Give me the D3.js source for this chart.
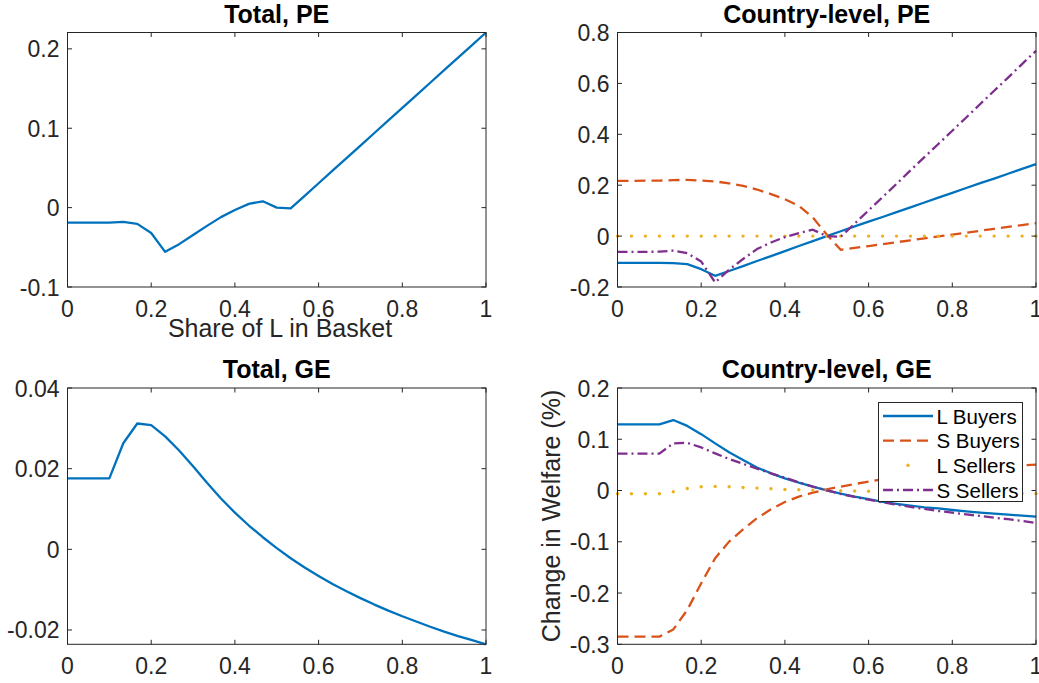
<!DOCTYPE html>
<html>
<head>
<meta charset="utf-8">
<script src="https://cdnjs.cloudflare.com/ajax/libs/d3/7.8.5/d3.min.js"></script>
<style>
  body { margin: 0; background: #fff; }
  text { font-family: "Liberation Sans", Arial, Helvetica, sans-serif; }
</style>
</head>
<body>
<div id="chart"></div>
<script>
// share of L in basket (x grid)
var shareL = [0, 0.0333, 0.0667, 0.1, 0.1333, 0.1667, 0.2, 0.2333, 0.2667, 0.3, 0.3333,
  0.3667, 0.4, 0.4333, 0.4667, 0.5, 0.5333, 0.5667, 0.6, 0.6333, 0.6667, 0.7, 0.7333,
  0.7667, 0.8, 0.8333, 0.8667, 0.9, 0.9333, 0.9667, 1];

var totalPE = [-0.019, -0.019, -0.019, -0.019, -0.018, -0.0205, -0.032, -0.0557, -0.046, -0.0344, -0.023,
  -0.012, -0.003, 0.0047, 0.008, 0.0, -0.001, 0.0148, 0.0307, 0.0465, 0.0623, 0.0782, 0.094,
  0.1098, 0.1257, 0.1415, 0.1573, 0.1732, 0.189, 0.2048, 0.2206];

var pe_LBuyers = [-0.105, -0.105, -0.105, -0.105, -0.106, -0.11, -0.13, -0.156, -0.137, -0.118, -0.098,
  -0.079, -0.059, -0.039, -0.02, 0.0, 0.019, 0.038, 0.057, 0.075, 0.094, 0.113, 0.132,
  0.151, 0.17, 0.189, 0.208, 0.226, 0.245, 0.264, 0.283];
var pe_SBuyers = [0.217, 0.217, 0.218, 0.218, 0.22, 0.221, 0.218, 0.215, 0.207, 0.197, 0.183,
  0.165, 0.145, 0.119, 0.073, 0.006, -0.054, -0.0465, -0.039, -0.0315, -0.024, -0.0165, -0.009,
  -0.0015, 0.006, 0.0135, 0.021, 0.0285, 0.036, 0.0435, 0.051];
var pe_LSellers = [0, 0, 0, 0, 0, 0, 0, 0, 0, 0, 0,
  0, 0, 0, 0, 0, 0, 0, 0, 0, 0, 0, 0,
  0, 0, 0, 0, 0, 0, 0, 0];
var pe_SSellers = [-0.062, -0.062, -0.062, -0.061, -0.057, -0.067, -0.1, -0.182, -0.132, -0.09, -0.051,
  -0.025, -0.004, 0.012, 0.025, 0.0, -0.003, 0.049, 0.101, 0.153, 0.205, 0.258, 0.31,
  0.362, 0.414, 0.466, 0.519, 0.571, 0.623, 0.676, 0.728];

var totalGE = [0.0176, 0.0176, 0.0176, 0.0176, 0.0263, 0.0312, 0.0308, 0.028, 0.0245, 0.0206, 0.0165,
  0.0126, 0.0091, 0.0059, 0.003, 0.0003, -0.0022, -0.0045, -0.0066, -0.0086, -0.0104, -0.0121, -0.0137,
  -0.0152, -0.0166, -0.0179, -0.0192, -0.0204, -0.0215, -0.0225, -0.02355];

var ge_LBuyers = [0.129, 0.129, 0.129, 0.129, 0.1375, 0.126, 0.11, 0.092, 0.0745, 0.0596, 0.045,
  0.0336, 0.0238, 0.0153, 0.0075, 0.0004, -0.006, -0.012, -0.017, -0.022, -0.026, -0.0295, -0.033,
  -0.035, -0.038, -0.0405, -0.043, -0.045, -0.047, -0.049, -0.051];
var ge_SBuyers = [-0.285, -0.285, -0.285, -0.285, -0.271, -0.233, -0.181, -0.132, -0.0997, -0.0757, -0.054,
  -0.0367, -0.0224, -0.012, -0.004, 0.0023, 0.0075, 0.0127, 0.0173, 0.022, 0.026, 0.0295, 0.033,
  0.036, 0.039, 0.0415, 0.044, 0.046, 0.048, 0.049, 0.0505];
var ge_LSellers = [-0.0064, -0.0064, -0.0064, -0.0064, -0.0025, 0.004, 0.0073, 0.008, 0.0075, 0.006, 0.0047,
  0.0034, 0.002, 0.0014, 0.0008, 0.0, -0.0005, -0.001, -0.0015, -0.002, -0.0025, -0.003, -0.0034,
  -0.0038, -0.0042, -0.0045, -0.0048, -0.0051, -0.0054, -0.0057, -0.006];
var ge_SSellers = [0.072, 0.072, 0.072, 0.072, 0.092, 0.093, 0.084, 0.0725, 0.0615, 0.052, 0.0427,
  0.0336, 0.025, 0.016, 0.0075, 0.0004, -0.0068, -0.0126, -0.018, -0.023, -0.0275, -0.032, -0.036,
  -0.04, -0.043, -0.0464, -0.0497, -0.053, -0.056, -0.0594, -0.0633];

var seriesNames = ["L Buyers", "S Buyers", "L Sellers", "S Sellers"];

var xTicks = [0, 0.2, 0.4, 0.6, 0.8, 1];
var yTicksTotalPE = [-0.1, 0, 0.1, 0.2];
var yTicksCountryPE = [-0.2, 0, 0.2, 0.4, 0.6, 0.8];
var yTicksTotalGE = [-0.02, 0, 0.02, 0.04];
var yTicksCountryGE = [-0.3, -0.2, -0.1, 0, 0.1, 0.2];

var styles = [
  { color: "#0072BD", dash: null },
  { color: "#D95319", dash: "11,6" },
  { color: "#EDB120", dots: true },
  { color: "#7E2F8E", dash: "10,4,2,4" }
];

var W = 1039, H = 683;
var svg = d3.select("#chart").append("svg").attr("width", W).attr("height", H);

function fmt(v) {
  return String(+v.toFixed(3));
}

function panel(opts) {
  var x = d3.scaleLinear().domain([0, 1]).range([opts.left, opts.right]);
  var y = d3.scaleLinear().domain(opts.yDomain).range([opts.bottom, opts.top]);
  var g = svg.append("g");

  var line = d3.line()
    .x(function (d, i) { return x(shareL[i]); })
    .y(function (d) { return y(d); });

  opts.series.forEach(function (s, k) {
    var st = opts.series.length == 1 ? styles[0] : styles[k];
    if (st.dots) {
      g.selectAll(null)
        .data(s)
        .enter()
        .append("circle")
        .attr("cx", function (d, i) { return x(shareL[i]); })
        .attr("cy", function (d) { return y(d); })
        .attr("r", 1.7)
        .attr("fill", st.color);
    } else {
      g.append("path")
        .datum(s)
        .attr("d", line)
        .attr("fill", "none")
        .attr("stroke", st.color)
        .attr("stroke-width", 2.3)
        .attr("stroke-dasharray", st.dash)
        .attr("stroke-linejoin", "round");
    }
  });

  // axes box with inward ticks on all four sides
  var ax = svg.append("g").attr("stroke", "#262626").attr("stroke-width", 1).attr("fill", "none");
  ax.append("rect")
    .attr("x", opts.left).attr("y", opts.top)
    .attr("width", opts.right - opts.left).attr("height", opts.bottom - opts.top);
  var tl = 4.5;
  xTicks.forEach(function (t) {
    ax.append("line").attr("x1", x(t)).attr("x2", x(t)).attr("y1", opts.bottom).attr("y2", opts.bottom - tl);
    ax.append("line").attr("x1", x(t)).attr("x2", x(t)).attr("y1", opts.top).attr("y2", opts.top + tl);
  });
  opts.yTicks.forEach(function (t) {
    ax.append("line").attr("x1", opts.left).attr("x2", opts.left + tl).attr("y1", y(t)).attr("y2", y(t));
    ax.append("line").attr("x1", opts.right).attr("x2", opts.right - tl).attr("y1", y(t)).attr("y2", y(t));
  });

  svg.append("g")
    .selectAll("text")
    .data(xTicks)
    .enter()
    .append("text")
    .attr("x", function (d) { return x(d); })
    .attr("y", opts.bottom + 30)
    .attr("text-anchor", "middle")
    .style("font-size", "23px")
    .style("fill", "#262626")
    .text(fmt);

  svg.append("g")
    .selectAll("text")
    .data(opts.yTicks)
    .enter()
    .append("text")
    .attr("x", opts.left - 8)
    .attr("y", function (d) { return y(d) + 8.5; })
    .attr("text-anchor", "end")
    .style("font-size", "23px")
    .style("fill", "#262626")
    .text(fmt);

  svg.append("text")
    .attr("x", (opts.left + opts.right) / 2)
    .attr("y", opts.top - 10)
    .attr("text-anchor", "middle")
    .style("font-size", "25px")
    .style("font-weight", "bold")
    .style("fill", "#000")
    .text(opts.title);

  return { x: x, y: y };
}

panel({ left: 67.5, right: 486, top: 32.5, bottom: 287, yDomain: [-0.1, 0.2206],
  yTicks: yTicksTotalPE, series: [totalPE], title: "Total, PE" });
panel({ left: 617.5, right: 1036, top: 32.5, bottom: 287, yDomain: [-0.2, 0.8],
  yTicks: yTicksCountryPE, series: [pe_LBuyers, pe_SBuyers, pe_LSellers, pe_SSellers], title: "Country-level, PE" });
panel({ left: 67.5, right: 486, top: 388, bottom: 644.3, yDomain: [-0.02355, 0.04],
  yTicks: yTicksTotalGE, series: [totalGE], title: "Total, GE" });
panel({ left: 617.5, right: 1036, top: 388, bottom: 644.3, yDomain: [-0.3, 0.2],
  yTicks: yTicksCountryGE, series: [ge_LBuyers, ge_SBuyers, ge_LSellers, ge_SSellers], title: "Country-level, GE" });

// axis labels
svg.append("text")
  .attr("x", 280)
  .attr("y", 337)
  .attr("text-anchor", "middle")
  .style("font-size", "25px")
  .style("fill", "#262626")
  .text("Share of L in Basket");

svg.append("text")
  .attr("transform", "translate(560,516) rotate(-90)")
  .attr("text-anchor", "middle")
  .style("font-size", "25px")
  .style("fill", "#262626")
  .text("Change in Welfare (%)");

// legend
var lg = svg.append("g");
lg.append("rect")
  .attr("x", 878.5).attr("y", 402.5)
  .attr("width", 144).attr("height", 99)
  .attr("fill", "#fff").attr("stroke", "#262626").attr("stroke-width", 1);
var rowY = [416, 440.7, 465.3, 490];
seriesNames.forEach(function (name, k) {
  var st = styles[k];
  if (st.dots) {
    lg.append("circle").attr("cx", 908).attr("cy", rowY[k]).attr("r", 1.7).attr("fill", st.color);
  } else {
    lg.append("line")
      .attr("x1", 883).attr("x2", 933)
      .attr("y1", rowY[k]).attr("y2", rowY[k])
      .attr("stroke", st.color).attr("stroke-width", 2.3)
      .attr("stroke-dasharray", st.dash);
  }
  lg.append("text")
    .attr("x", 936.5)
    .attr("y", rowY[k] + 7.5)
    .style("font-size", "20.5px")
    .style("fill", "#000")
    .text(name);
});
</script>
</body>
</html>
